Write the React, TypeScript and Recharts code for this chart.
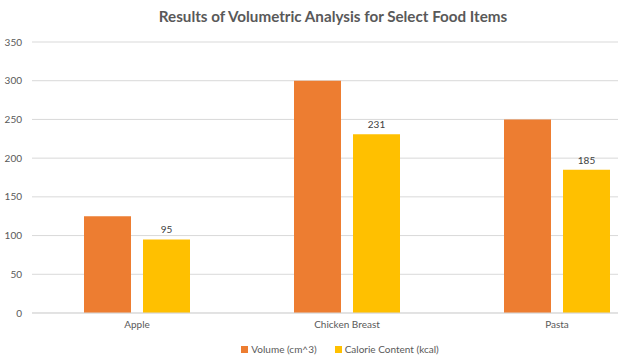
import React from "react"
import {
  BarChart,
  Bar,
  XAxis,
  YAxis,
  CartesianGrid,
  Legend,
  LabelList,
} from "recharts"

const FOODS = ["Apple", "Chicken Breast", "Pasta"]
const VOLUME = [125, 300, 250]
const CALORIES = [95, 231, 185]
const Y_TICKS = [0, 50, 100, 150, 200, 250, 300, 350]

const VOLUME_NAME = "Volume (cm^3)"
const CALORIE_NAME = "Calorie Content (kcal)"
const TITLE = "Results of Volumetric Analysis for Select Food Items"

const ORANGE = "#ED7D31"
const YELLOW = "#FFC000"
const TEXT = "#595959"
const FONT = "Lato, 'Open Sans', sans-serif"

const data = FOODS.map((food, i) => ({
  food,
  volume: VOLUME[i],
  calories: CALORIES[i],
}))

function LegendContent() {
  const items = [
    { name: VOLUME_NAME, color: ORANGE },
    { name: CALORIE_NAME, color: YELLOW },
  ]
  return (
    <div style={{ display: "flex", justifyContent: "center", gap: 18, fontFamily: FONT, fontSize: 10, color: TEXT, paddingLeft: 18 }}>
      {items.map((item) => (
        <div key={item.name} style={{ display: "flex", alignItems: "center", gap: 3 }}>
          <span style={{ width: 7, height: 7, background: item.color, display: "inline-block" }} />
          {item.name}
        </div>
      ))}
    </div>
  )
}

export default function App() {
  return (
    <div style={{ position: "absolute", left: 0, top: 0, width: 618, height: 358, overflow: "hidden", background: "#fff" }}>
      <div
        style={{
          position: "absolute",
          left: 0,
          width: 666,
          top: 7,
          textAlign: "center",
          fontFamily: FONT,
          fontWeight: 700,
          fontSize: 15.2,
          color: TEXT,
        }}
      >
        {TITLE}
      </div>
      <BarChart
        width={670}
        height={358}
        data={data}
        margin={{ top: 42, right: 8, left: 0, bottom: 5 }}
        barSize={47}
        barGap={12}
      >
        <CartesianGrid vertical={false} stroke="#D9D9D9" />
        <XAxis
          dataKey="food"
          height={20}
          axisLine={{ stroke: "#D9D9D9" }}
          tickLine={false}
          tick={{ fontSize: 10, fill: TEXT, fontFamily: FONT }}
        />
        <YAxis
          width={32}
          domain={[0, 350]}
          ticks={Y_TICKS}
          axisLine={false}
          tickLine={false}
          tickMargin={4}
          tick={{ fontSize: 10, fill: TEXT, fontFamily: FONT }}
        />
        <Legend verticalAlign="bottom" height={20} wrapperStyle={{ top: 343, bottom: "auto" }} content={<LegendContent />} />
        <Bar dataKey="volume" name={VOLUME_NAME} fill={ORANGE} isAnimationActive={false} />
        <Bar dataKey="calories" name={CALORIE_NAME} fill={YELLOW} isAnimationActive={false}>
          <LabelList dataKey="calories" position="top" offset={6} style={{ fontSize: 10, fill: "#404040", fontFamily: FONT }} />
        </Bar>
      </BarChart>
    </div>
  )
}
